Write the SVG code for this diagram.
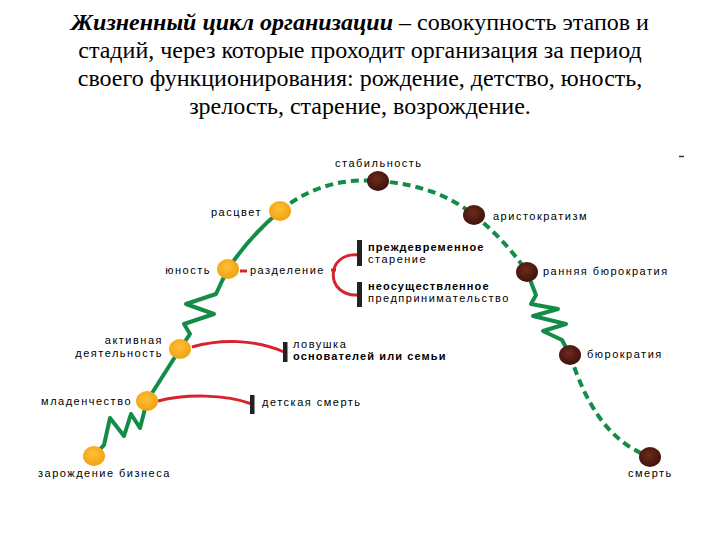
<svg xmlns="http://www.w3.org/2000/svg" width="720" height="540" viewBox="0 0 720 540">
<defs>
<radialGradient id="gOr" cx="45%" cy="40%" r="60%">
<stop offset="0" stop-color="#ffbf33"/><stop offset="1" stop-color="#f0a214"/>
</radialGradient>
<radialGradient id="gBr" cx="45%" cy="40%" r="60%">
<stop offset="0" stop-color="#6e2a1c"/><stop offset="1" stop-color="#3e120a"/>
</radialGradient>
</defs>
<style>
.t{font-family:"Times New Roman","Liberation Serif",serif;font-size:24px;fill:#000}
.l{font-family:Arial,"Liberation Sans",sans-serif;font-size:11px;letter-spacing:1.5px;fill:#000}
.b{font-weight:bold;letter-spacing:1.1px}
.g{fill:none;stroke:#138c48;stroke-width:4;stroke-linejoin:round;stroke-linecap:round}
.gd{fill:none;stroke:#138c48;stroke-width:4;stroke-dasharray:8 5}
.r{fill:none;stroke:#d8222e;stroke-width:3}
.bar{fill:#222}
.or{fill:url(#gOr)}
.br{fill:url(#gBr)}
</style>
<rect width="720" height="540" fill="#fff"/>
<g id="title">
<text class="t" x="360" y="30" text-anchor="middle"><tspan font-weight="bold" font-style="italic">Жизненный цикл организации</tspan> – совокупность этапов и</text>
<text class="t" x="360" y="58" text-anchor="middle">стадий, через которые проходит организация за период</text>
<text class="t" x="360" y="86" text-anchor="middle">своего функционирования: рождение, детство, юность,</text>
<text class="t" x="360" y="114" text-anchor="middle">зрелость, старение, возрождение.</text>
</g>
<g id="connectors">
<path class="g" d="M94,456 L104,445 L110,418 L124,436 L131,414 L140,428 L147,401"/>
<path class="g" d="M147,401 L180,349"/>
<path class="g" d="M180,349 L190,334 L184,324 L214,314 L186,304 L216,294 L222,281 L228,269"/>
<path class="g" d="M228,269 Q250,236 280,211"/>
<path class="gd" d="M280,211 C310,186 345,178 378,181 C420,184 450,196 474,215 C495,232 512,250 527,272"/>
<path class="g" d="M527,272 L536,295 L531,304 L558,309 L533,316 L566,324 L543,331 L562,340 L570,355"/>
<path class="gd" d="M570,355 C585,400 605,440 650,457"/>
<path class="r" d="M158,401 C185,394 225,394 252,404"/>
<path class="r" d="M192,347 C220,339 255,339 284,352"/>
<path class="r" d="M240,271 L247,271"/>
<path class="r" d="M331,270 L336,270"/>
<path class="r" d="M358,255 C325,252 325,297 358,295"/>
<rect class="bar" x="250" y="395" width="4.5" height="19"/>
<rect class="bar" x="283" y="342" width="4.5" height="20"/>
<rect class="bar" x="357" y="240" width="5" height="26"/>
<rect class="bar" x="357" y="282" width="5" height="25"/>
</g>
<g id="n-birth"><ellipse class="or" cx="94" cy="456" rx="11" ry="10"/><text class="l" x="38" y="477">зарождение бизнеса</text></g>
<g id="n-infancy"><ellipse class="or" cx="147" cy="401" rx="11" ry="10"/><text class="l" x="132" y="405" text-anchor="end">младенчество</text></g>
<g id="n-active"><ellipse class="or" cx="180" cy="349" rx="11" ry="10"/><text class="l" x="163" y="344" text-anchor="end">активная</text><text class="l" x="163" y="357" text-anchor="end">деятельность</text></g>
<g id="n-youth"><ellipse class="or" cx="228" cy="269" rx="11" ry="10"/><text class="l" x="211" y="274" text-anchor="end">юность</text></g>
<g id="n-bloom"><ellipse class="or" cx="280" cy="211" rx="11" ry="10"/><text class="l" x="262" y="216" text-anchor="end">расцвет</text></g>
<g id="n-split"><text class="l" x="250" y="274">разделение</text></g>
<g id="n-premature"><text class="l b" x="368" y="251">преждевременное</text><text class="l" x="368" y="263">старение</text></g>
<g id="n-unrealized"><text class="l b" x="368" y="290">неосуществленное</text><text class="l" x="368" y="302">предпринимательство</text></g>
<g id="n-trap"><text class="l" x="293" y="348">ловушка</text><text class="l b" x="293" y="360">основателей или семьи</text></g>
<g id="n-childdeath"><text class="l" x="262" y="406">детская смерть</text></g>
<g id="n-stability"><ellipse class="br" cx="378" cy="181" rx="11" ry="10"/><text class="l" x="335" y="167">стабильность</text></g>
<g id="n-aristocracy"><ellipse class="br" cx="474" cy="215" rx="11" ry="10"/><text class="l" x="493" y="220">аристократизм</text></g>
<g id="n-earlybur"><ellipse class="br" cx="527" cy="272" rx="11" ry="10"/><text class="l" x="543" y="275">ранняя бюрократия</text></g>
<g id="n-bur"><ellipse class="br" cx="570" cy="355" rx="11" ry="10"/><text class="l" x="587" y="358">бюрократия</text></g>
<g id="n-death"><ellipse class="br" cx="650" cy="457" rx="11" ry="10"/><text class="l" x="628" y="477">смерть</text></g>
<line x1="679" y1="156.5" x2="684" y2="156.5" stroke="#333" stroke-width="1.5"/>
</svg>
